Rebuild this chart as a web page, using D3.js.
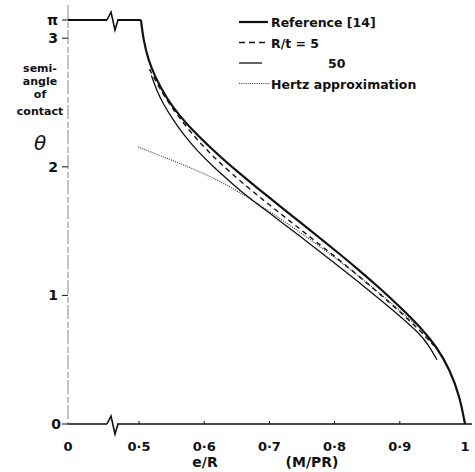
<!DOCTYPE html>
<html>
<head>
<meta charset="utf-8">
<script src="https://cdn.jsdelivr.net/npm/d3@7"></script>
<style>
  body { margin: 0; background: #fff; }
  text { font-family: "DejaVu Sans", sans-serif; font-weight: bold; fill: #111; }
</style>
</head>
<body>
<div id="chart"></div>
<script>
var svgWidth = 475;
var svgHeight = 472;

// data: [e/R, theta]
var referenceFlat = [[0, Math.PI], [0.503, Math.PI]];
var referenceData = [
  [0.503, Math.PI], [0.5066, 2.99], [0.5143, 2.83], [0.5245, 2.70],
  [0.5425, 2.53], [0.563, 2.39], [0.5885, 2.25], [0.624, 2.08], [0.655, 1.945],
  [0.6856, 1.818], [0.716, 1.695], [0.747, 1.57], [0.7776, 1.446], [0.808, 1.321],
  [0.839, 1.19], [0.8696, 1.055], [0.9, 0.912], [0.931, 0.757], [0.9566, 0.601],
  [0.977, 0.42], [0.992, 0.212], [1.0, 0]
];
var rt5Data = [
  [0.516, 2.76], [0.53, 2.625], [0.5476, 2.48], [0.568, 2.34], [0.5885, 2.215],
  [0.609, 2.105], [0.624, 2.03], [0.655, 1.89], [0.6856, 1.762], [0.716, 1.64],
  [0.747, 1.515], [0.7776, 1.393], [0.808, 1.272], [0.839, 1.142], [0.8696, 1.01],
  [0.9, 0.874], [0.931, 0.727], [0.952, 0.61]
];
var rt50Data = [
  [0.519, 2.71], [0.527, 2.597], [0.537, 2.49], [0.5526, 2.364], [0.5655, 2.27],
  [0.588, 2.13], [0.614, 2.0], [0.6396, 1.885], [0.655, 1.815], [0.6856, 1.695],
  [0.716, 1.58], [0.747, 1.46], [0.7776, 1.34], [0.808, 1.22], [0.839, 1.095],
  [0.8696, 0.968], [0.9, 0.84], [0.931, 0.70], [0.944, 0.615], [0.957, 0.50]
];
var hertzData = [
  [0.495, 2.154], [0.544, 2.063], [0.596, 1.96], [0.647, 1.825], [0.68, 1.72],
  [0.716, 1.60], [0.747, 1.49], [0.7776, 1.38], [0.808, 1.265], [0.839, 1.142],
  [0.8696, 1.015], [0.9, 0.883], [0.925, 0.77]
];

var xTicks = [0, 0.5, 0.6, 0.7, 0.8, 0.9, 1];
var xTickLabels = ["0", "0·5", "0·6", "0·7", "0·8", "0·9", "1"];
var yTicks = [0, 1, 2, 3, Math.PI];
var yTickLabels = ["0", "1", "2", "3", "π"];

var legendLabels = ["Reference [14]", "R/t = 5", "50", "Hertz approximation"];

var svg = d3.select("#chart")
  .append("svg")
  .attr("width", svgWidth)
  .attr("height", svgHeight);

// broken x axis: 0 .. 0.5 squeezed into a short stretch
var x = d3.scaleLinear()
  .domain([0, 0.5, 1])
  .range([68, 139, 465]);

var y = d3.scaleLinear()
  .domain([0, Math.PI])
  .range([424, 20]);

// smooth through the hand-read points
var line = d3.line()
  .x(d => x(d[0]))
  .y(d => y(d[1]))
  .curve(d3.curveBasis);

var straight = d3.line()
  .x(d => x(d[0]))
  .y(d => y(d[1]));

// y axis (faint, broken-looking like the scan)
svg.append("line")
  .attr("x1", x(0)).attr("x2", x(0))
  .attr("y1", 5).attr("y2", y(0))
  .attr("stroke", "#777")
  .attr("stroke-width", 0.9)
  .attr("stroke-dasharray", "14,3,6,2");

// x axis
svg.append("line")
  .attr("x1", x(0)).attr("x2", 472)
  .attr("y1", y(0)).attr("y2", y(0))
  .attr("stroke", "#111")
  .attr("stroke-width", 1.6);

// x ticks
svg.selectAll(".xtick")
  .data(xTicks.slice(1))
  .enter()
  .append("line")
  .attr("x1", d => x(d)).attr("x2", d => x(d))
  .attr("y1", y(0) - 3).attr("y2", y(0))
  .attr("stroke", "#111")
  .attr("stroke-width", 1);

svg.selectAll(".xlabel")
  .data(xTicks)
  .enter()
  .append("text")
  .attr("x", d => x(d))
  .attr("y", 451)
  .attr("text-anchor", "middle")
  .style("font-size", "13px")
  .text((d, i) => xTickLabels[i]);

// y ticks
svg.selectAll(".ytick")
  .data(yTicks)
  .enter()
  .append("line")
  .attr("x1", x(0) - 6).attr("x2", x(0))
  .attr("y1", d => y(d)).attr("y2", d => y(d))
  .attr("stroke", "#111")
  .attr("stroke-width", 1);

svg.selectAll(".ylabel")
  .data(yTicks)
  .enter()
  .append("text")
  .attr("x", (d, i) => i === 0 ? 61 : 58)
  .attr("y", d => y(d) + 5)
  .attr("text-anchor", "end")
  .style("font-size", "14px")
  .text((d, i) => yTickLabels[i]);

// axis titles
var yTitle = ["semi-", "angle", "of", "contact"];
svg.selectAll(".ytitle")
  .data(yTitle)
  .enter()
  .append("text")
  .attr("x", 40)
  .attr("y", (d, i) => [72, 85, 98, 115][i])
  .attr("text-anchor", "middle")
  .style("font-size", "11px")
  .text(d => d);

svg.append("text")
  .attr("x", 40)
  .attr("y", 150)
  .attr("text-anchor", "middle")
  .style("font-size", "20px")
  .style("font-style", "italic")
  .style("font-weight", "normal")
  .text("θ");

svg.append("text")
  .attr("x", 205).attr("y", 467)
  .attr("text-anchor", "middle")
  .style("font-size", "14px")
  .text("e/R");

svg.append("text")
  .attr("x", 312).attr("y", 467)
  .attr("text-anchor", "middle")
  .style("font-size", "14px")
  .text("(M/PR)");

// curves
svg.append("path")
  .datum(hertzData)
  .attr("fill", "none")
  .attr("stroke", "#333")
  .attr("stroke-width", 1.1)
  .attr("stroke-dasharray", "1,1.2")
  .attr("d", line);

svg.append("path")
  .datum(rt50Data)
  .attr("fill", "none")
  .attr("stroke", "#111")
  .attr("stroke-width", 1.3)
  .attr("d", line);

svg.append("path")
  .datum(rt5Data)
  .attr("fill", "none")
  .attr("stroke", "#111")
  .attr("stroke-width", 1.4)
  .attr("stroke-dasharray", "5,4")
  .attr("d", line);

svg.append("path")
  .datum(referenceFlat)
  .attr("fill", "none")
  .attr("stroke", "#111")
  .attr("stroke-width", 2.2)
  .attr("d", straight);

svg.append("path")
  .datum(referenceData)
  .attr("fill", "none")
  .attr("stroke", "#111")
  .attr("stroke-width", 2.2)
  .attr("d", line);

// break marks on the pi line and the x axis
function breakMark(px, py) {
  svg.append("rect")
    .attr("x", px - 5).attr("y", py - 3)
    .attr("width", 10).attr("height", 6)
    .attr("fill", "#fff");
  svg.append("path")
    .attr("d", `M${px - 5},${py} L${px - 1},${py - 8} L${px + 3},${py + 10} L${px + 6},${py}`)
    .attr("fill", "none")
    .attr("stroke", "#111")
    .attr("stroke-width", 1.6);
}
breakMark(112, y(Math.PI));
breakMark(112, y(0));

// legend
var legendStyles = [
  { w: 2.2, dash: null, x2: 268 },
  { w: 1.4, dash: "6,4", x2: 266 },
  { w: 1.3, dash: null, x2: 262 },
  { w: 1.1, dash: "1,1.2", x2: 270 }
];
legendLabels.forEach(function(label, i) {
  var ly = 22 + i * 20.5;
  var st = legendStyles[i];
  svg.append("line")
    .attr("x1", 239).attr("x2", st.x2)
    .attr("y1", ly).attr("y2", ly)
    .attr("stroke", i === 3 ? "#333" : "#111")
    .attr("stroke-width", st.w)
    .attr("stroke-dasharray", st.dash);
  svg.append("text")
    .attr("x", i === 2 ? 328 : 271)
    .attr("y", ly + 5)
    .style("font-size", "12.5px")
    .text(label);
});
</script>
</body>
</html>
